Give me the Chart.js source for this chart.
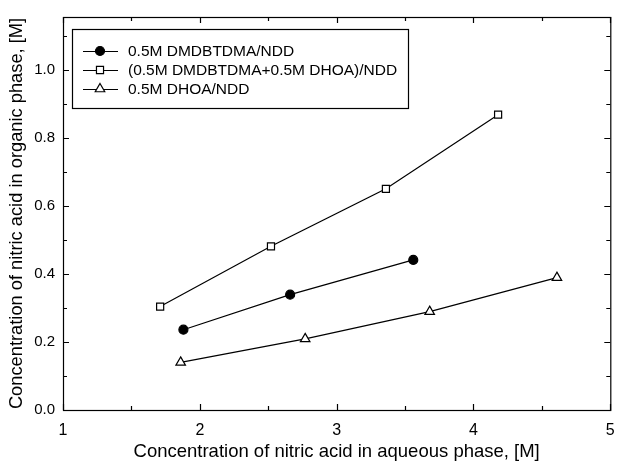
<!DOCTYPE html>
<html>
<head>
<meta charset="utf-8">
<script src="https://cdn.jsdelivr.net/npm/chart.js@4/dist/chart.umd.min.js"></script>
<style>
  html, body { margin: 0; padding: 0; background: #fff; }
  #wrap { width: 617px; height: 463px; }
</style>
</head>
<body>
<div id="wrap"><canvas id="chart" width="617" height="463"></canvas></div>
<script>
// Nitric acid distribution data
const seriesNames = [
    '0.5M DMDBTDMA/NDD',
    '(0.5M DMDBTDMA+0.5M DHOA)/NDD',
    '0.5M DHOA/NDD'
];
const dmdbtdmaX = [1.88, 2.66, 3.56];
const dmdbtdmaY = [0.236, 0.339, 0.441];
const mixX = [1.71, 2.52, 3.36, 4.18];
const mixY = [0.304, 0.481, 0.650, 0.868];
const dhoaX = [1.86, 2.77, 3.68, 4.61];
const dhoaY = [0.140, 0.209, 0.289, 0.389];

const xTitle = 'Concentration of nitric acid in aqueous phase, [M]';
const yTitle = 'Concentration of nitric acid in organic phase, [M]';

const FONT = '"Liberation Sans", Arial, sans-serif';

function toPoints(xs, ys) {
    return xs.map((x, i) => ({ x: x, y: ys[i] }));
}

function makeSet(label, xs, ys, style, fill, radius) {
    return {
        label: label,
        data: toPoints(xs, ys),
        showLine: true,
        borderColor: '#000',
        borderWidth: 1.2,
        pointStyle: style,
        pointRadius: radius,
        pointBackgroundColor: fill,
        pointBorderColor: '#000',
        pointBorderWidth: 1.2,
        tension: 0
    };
}

// frame + inward ticks (major and minor) on all four sides
const framePlugin = {
    id: 'frame',
    afterDraw(chart) {
        const { ctx, chartArea: a, scales } = chart;
        const xs = scales.x, ys = scales.y;
        ctx.save();
        ctx.strokeStyle = '#000';
        ctx.lineWidth = 1.2;
        ctx.strokeRect(a.left + 0.5, a.top + 0.5, a.right - a.left, a.bottom - a.top);
        ctx.beginPath();
        for (let v = xs.min; v <= xs.max + 1e-9; v += 0.5) {
            const px = Math.round(xs.getPixelForValue(v)) + 0.5;
            const len = Math.abs(v - Math.round(v)) < 1e-9 ? 6 : 4;
            ctx.moveTo(px, a.bottom); ctx.lineTo(px, a.bottom - len);
            ctx.moveTo(px, a.top); ctx.lineTo(px, a.top + len);
        }
        for (let v = 0; v <= ys.max + 1e-9; v += 0.1) {
            const py = Math.round(ys.getPixelForValue(v)) + 0.5;
            const len = Math.round(v * 10) % 2 === 0 ? 6 : 4;
            ctx.moveTo(a.left, py); ctx.lineTo(a.left + len, py);
            ctx.moveTo(a.right, py); ctx.lineTo(a.right - len, py);
        }
        ctx.stroke();
        ctx.restore();
    }
};

// boxed legend in upper left corner of plot
const legendBoxPlugin = {
    id: 'legendBox',
    afterDraw(chart) {
        const ctx = chart.ctx;
        const box = { left: 72, top: 29, right: 408, bottom: 108 };
        ctx.save();
        ctx.fillStyle = '#fff';
        ctx.fillRect(box.left, box.top, box.right - box.left, box.bottom - box.top);
        ctx.strokeStyle = '#000';
        ctx.lineWidth = 1.2;
        ctx.strokeRect(box.left + 0.5, box.top + 0.5, box.right - box.left, box.bottom - box.top);
        ctx.font = '15.5px ' + FONT;
        ctx.textBaseline = 'middle';
        chart.data.datasets.forEach((ds, i) => {
            const cy = box.top + 22 + i * 19;
            ctx.beginPath();
            ctx.moveTo(83, cy + 0.5); ctx.lineTo(118, cy + 0.5);
            ctx.stroke();
            ctx.fillStyle = ds.pointBackgroundColor;
            Chart.helpers.drawPoint(ctx, {
                pointStyle: ds.pointStyle,
                radius: ds.pointRadius,
                borderWidth: 1.2
            }, 100, cy);
            ctx.fillStyle = '#000';
            ctx.fillText(ds.label, 128, cy + 1);
        });
        ctx.restore();
    }
};

new Chart(document.getElementById('chart'), {
    type: 'scatter',
    data: {
        datasets: [
            makeSet(seriesNames[0], dmdbtdmaX, dmdbtdmaY, 'circle', '#000', 4.5),
            makeSet(seriesNames[1], mixX, mixY, 'rect', '#fff', 5),
            makeSet(seriesNames[2], dhoaX, dhoaY, 'triangle', '#fff', 5.5)
        ]
    },
    options: {
        responsive: false,
        animation: false,
        layout: { padding: { top: 12, right: 4, left: 0, bottom: 0 } },
        plugins: { legend: { display: false }, tooltip: { enabled: false } },
        scales: {
            x: {
                type: 'linear',
                min: 1, max: 5,
                border: { display: false },
                grid: { display: false, drawTicks: false },
                ticks: {
                    stepSize: 1,
                    padding: 11,
                    color: '#000',
                    font: { family: FONT, size: 16 },
                    callback: v => v.toFixed(0)
                },
                title: {
                    display: true, text: xTitle, color: '#000',
                    font: { family: FONT, size: 18.5 },
                    padding: { top: 2, bottom: 0 }
                },
                afterFit(s) {
                    s.height = 53;
                    // let the last tick label hang past the plot edge
                    s.paddingRight = 0;
                    s.paddingLeft = 0;
                }
            },
            y: {
                type: 'linear',
                min: 0, max: 1.155,
                border: { display: false },
                grid: { display: false, drawTicks: false },
                ticks: {
                    stepSize: 0.2,
                    includeBounds: false,
                    padding: 8,
                    color: '#000',
                    font: { family: FONT, size: 15 },
                    callback: v => v.toFixed(1)
                },
                title: {
                    display: true, text: yTitle, color: '#000',
                    font: { family: FONT, size: 18.3 },
                    padding: { top: 6, bottom: 0 }
                },
                afterFit(s) { s.width = 63; }
            }
        }
    },
    plugins: [framePlugin, legendBoxPlugin]
});
</script>
</body>
</html>
